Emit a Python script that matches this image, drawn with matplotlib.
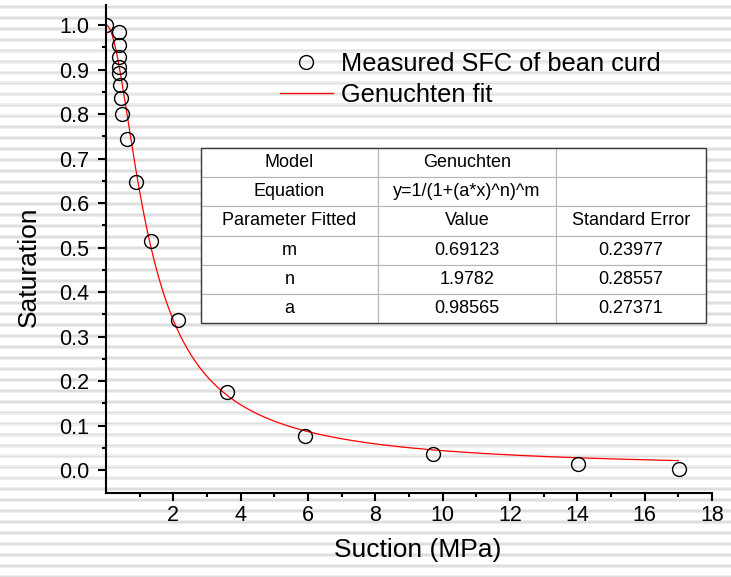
import numpy as np
import matplotlib
matplotlib.use("Agg")
import matplotlib.pyplot as plt
from matplotlib.patches import Rectangle

plt.rcParams['font.family'] = ['Liberation Sans', 'DejaVu Sans']

# ---- data ----
suction = [0.0, 0.386, 0.395, 0.395, 0.386, 0.386, 0.416, 0.437, 0.484, 0.624,
           0.891, 1.34, 2.14, 3.59, 5.91, 9.71, 14.02, 17.02]
saturation = [1.0, 0.985, 0.955, 0.929, 0.906, 0.893, 0.865, 0.837, 0.800, 0.743,
              0.648, 0.515, 0.337, 0.175, 0.076, 0.036, 0.013, 0.002]

# fitted Genuchten parameters (from the table)
m_fit, n_fit, a_fit = 0.69123, 1.9782, 0.98565
fit_x_range = (0.0, 17.0)

table_rows = [
    ["Model", "Genuchten", ""],
    ["Equation", "y=1/(1+(a*x)^n)^m", ""],
    ["Parameter Fitted", "Value", "Standard Error"],
    ["m", "0.69123", "0.23977"],
    ["n", "1.9782", "0.28557"],
    ["a", "0.98565", "0.27371"],
]
x_ticks = [2, 4, 6, 8, 10, 12, 14, 16, 18]
y_ticks = [0.0, 0.1, 0.2, 0.3, 0.4, 0.5, 0.6, 0.7, 0.8, 0.9, 1.0]

W, H = 731, 577
fig = plt.figure(figsize=(W / 100, H / 100), dpi=100)

# striped background
bg = fig.add_axes([0, 0, 1, 1], zorder=-10)
bg.set_xlim(0, W)
bg.set_ylim(H, 0)
bg.axis('off')
for yc in np.arange(6.7, H + 5, 10.97):
    bg.axhspan(yc - 2.0, yc + 2.0, color='#eeeeee', lw=0)
    bg.axhspan(yc - 0.9, yc + 0.9, color='#dedede', lw=0)

left, right = 106 / W, 712 / W
bottom, top = (H - 492.7) / H, (H - 5) / H
ax = fig.add_axes([left, bottom, right - left, top - bottom])
ax.patch.set_alpha(0)

# fit curve
xf = np.linspace(fit_x_range[0], fit_x_range[1], 600)
yf = 1.0 / (1.0 + (a_fit * xf) ** n_fit) ** m_fit
ax.plot(suction, saturation, 'o', ms=10, mfc='none', mec='black', mew=1.0,
        label='Measured SFC of bean curd', zorder=3)
ax.plot(xf, yf, '-', color='#ff0000', lw=0.9, label='Genuchten fit', zorder=2)

ax.set_xlim(0, 18)
ax.set_ylim(-0.051, 1.045)
ax.set_xticks(x_ticks)
ax.set_xticks(np.arange(1, 18, 2), minor=True)
ax.set_yticks(y_ticks)
ax.set_yticklabels([f"{v:.1f}" for v in y_ticks])
ax.set_yticks(np.arange(0.05, 1.0, 0.1), minor=True)

for s in ['top', 'right']:
    ax.spines[s].set_visible(False)
for s in ['left', 'bottom']:
    ax.spines[s].set_linewidth(1.5)

ax.tick_params(axis='both', which='major', direction='out', length=5.8, width=1.5,
               labelsize=15.5)
ax.tick_params(axis='both', which='minor', direction='out', length=2.9, width=1.5)
ax.tick_params(axis='x', which='major', pad=3)
ax.tick_params(axis='y', which='major', pad=6)

ax.set_xlabel('Suction (MPa)', fontsize=19)
ax.set_ylabel('Saturation', fontsize=19)
ax.xaxis.set_label_coords(0.515, -0.093)
ax.yaxis.set_label_coords(-0.108, 0.463)

leg = ax.legend(loc='upper left', bbox_to_anchor=(280 / W, (H - 52) / H),
                bbox_transform=fig.transFigure, frameon=False, fontsize=18.3,
                borderpad=0, borderaxespad=0, handlelength=2.08,
                handletextpad=0.31, labelspacing=0.26, numpoints=1)

# parameter table
tx0 = (201 - 106) / 606
tw = 505 / 606
ty0 = (492.7 - 323) / 487.7
th = 175 / 487.7
tbl = ax.table(cellText=table_rows, cellLoc='center',
               colWidths=[177 / 505, 178 / 505, 150 / 505],
               bbox=[tx0, ty0, tw, th], zorder=5)
tbl.auto_set_font_size(False)
tbl.set_fontsize(13)
for (r, c), cell in tbl.get_celld().items():
    cell.set_edgecolor('#b4b4b4')
    cell.set_linewidth(0.8)
    cell.set_facecolor('white')
ax.add_patch(Rectangle((tx0, ty0), tw, th, transform=ax.transAxes, fill=False,
                       edgecolor='#3a3a3a', lw=1.0, zorder=6, clip_on=False))

fig.savefig('out.png', dpi=100)
